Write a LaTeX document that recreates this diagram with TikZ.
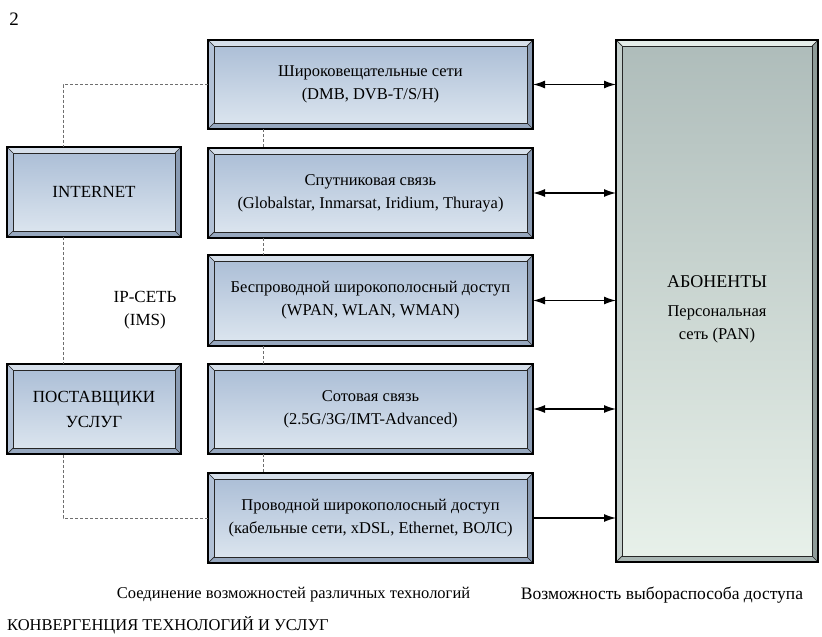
\documentclass[tikz,border=0pt]{standalone}
\usepackage{fontspec}
\setmainfont{Liberation Serif}
\usetikzlibrary{calc,arrows.meta}
\definecolor{btop}{HTML}{A9BCD5}
\definecolor{bbot}{HTML}{DEE7F0}
\definecolor{bvT}{HTML}{D6DFEA}
\definecolor{bvL}{HTML}{B2C1D6}
\definecolor{bvB}{HTML}{97A8BF}
\definecolor{bvR}{HTML}{8A9BB3}
\definecolor{gtop}{HTML}{AEBCBA}
\definecolor{gbot}{HTML}{E8F1EA}
\definecolor{gvT}{HTML}{E6EEEA}
\definecolor{gvL}{HTML}{C5D0CD}
\definecolor{gvB}{HTML}{A9B6B3}
\definecolor{gvR}{HTML}{8E9B98}
\definecolor{dashc}{HTML}{6E6E6E}
\tikzset{
  bluebox/.style={shape=rectangle, top color=btop, bottom color=bbot, inner sep=0pt, outer sep=0pt},
  greenbox/.style={shape=rectangle, top color=gtop, bottom color=gbot, inner sep=0pt, outer sep=0pt},
  conn/.style={line width=1.3pt, black, >={Latex[length=12pt,width=8pt]}},
  dashl/.style={dashc, line width=1pt, dash pattern=on 3pt off 2pt},
  plain/.style={font=\fontsize{16}{23}\selectfont, inner sep=0pt, align=center},
  boxtext/.style={plain, font=\fontsize{16.5}{23}\selectfont}
}
\newcommand\bevelbox[5]{%
  \coordinate (o1) at (#1.north west);
  \coordinate (o2) at (#1.north east);
  \coordinate (o3) at (#1.south east);
  \coordinate (o4) at (#1.south west);
  \coordinate (i1) at ($(o1)+(6,6)$);
  \coordinate (i2) at ($(o2)+(-6,6)$);
  \coordinate (i3) at ($(o3)+(-6,-6)$);
  \coordinate (i4) at ($(o4)+(6,-6)$);
  \fill[#2] (o1)--(o2)--(i2)--(i1)--cycle;
  \fill[#3] (o1)--(i1)--(i4)--(o4)--cycle;
  \fill[#4] (o4)--(i4)--(i3)--(o3)--cycle;
  \fill[#5] (o2)--(o3)--(i3)--(i2)--cycle;
  \draw[line width=0.7pt, black!85] (o1)--(i1) (o2)--(i2) (o3)--(i3) (o4)--(i4);
  \draw[line width=1pt, black!85] (i1)--(i2)--(i3)--(i4)--cycle;
  \draw[line width=1.2pt, black] (o1)--(o2)--(o3)--(o4)--cycle;
}
\begin{document}
\begin{tikzpicture}[x=1pt,y=-1pt]
\useasboundingbox (0,0) rectangle (822,637);
% centre boxes
\node[bluebox, minimum width=325pt, minimum height=89pt] (b1) at (370.5,84.5) {};
\node[bluebox, minimum width=325pt, minimum height=90pt] (b2) at (370.5,193) {};
\node[bluebox, minimum width=325pt, minimum height=91pt] (b3) at (370.5,300.5) {};
\node[bluebox, minimum width=325pt, minimum height=90pt] (b4) at (370.5,409) {};
\node[bluebox, minimum width=325pt, minimum height=90pt] (b5) at (370.5,518) {};
% left boxes
\node[bluebox, minimum width=174pt, minimum height=90pt] (int) at (94,192) {};
\node[bluebox, minimum width=174pt, minimum height=90pt] (pos) at (94,409) {};
% right box
\node[greenbox, minimum width=202pt, minimum height=522pt] (ab) at (717,301) {};
\bevelbox{b1}{bvT}{bvL}{bvB}{bvR}
\bevelbox{b2}{bvT}{bvL}{bvB}{bvR}
\bevelbox{b3}{bvT}{bvL}{bvB}{bvR}
\bevelbox{b4}{bvT}{bvL}{bvB}{bvR}
\bevelbox{b5}{bvT}{bvL}{bvB}{bvR}
\bevelbox{int}{bvT}{bvL}{bvB}{bvR}
\bevelbox{pos}{bvT}{bvL}{bvB}{bvR}
\bevelbox{ab}{gvT}{gvL}{gvB}{gvR}
% texts in boxes
\node[boxtext] (t1) at (b1) {Широковещательные сети\\(DMB, DVB-T/S/H)};
\node[boxtext] (t2) at (b2) {Спутниковая связь\\(Globalstar, Inmarsat, Iridium, Thuraya)};
\node[boxtext] (t3) at (b3) {Беспроводной широкополосный доступ\\(WPAN, WLAN, WMAN)};
\node[boxtext] (t4) at (b4) {Сотовая связь\\(2.5G/3G/IMT-Advanced)};
\node[boxtext] (t5) at (b5) {Проводной широкополосный доступ\\(кабельные сети, xDSL, Ethernet, ВОЛС)};
\node[plain, font=\fontsize{17}{25}\selectfont] (ti) at (int) {INTERNET};
\node[plain, font=\fontsize{17}{25}\selectfont] (tp) at (pos) {ПОСТАВЩИКИ\\УСЛУГ};
\node[boxtext] (ta) at (717,309) {{\fontsize{18}{23}\selectfont АБОНЕНТЫ}\\[6pt]Персональная\\сеть (PAN)};
% arrows
\draw[conn, <->] (b1.east) -- (b1.east -| ab.west);
\draw[conn, <->] (b2.east) -- (b2.east -| ab.west);
\draw[conn, <->] (b3.east) -- (b3.east -| ab.west);
\draw[conn, <->] (b4.east) -- (b4.east -| ab.west);
\draw[conn, ->] (b5.east) -- (b5.east -| ab.west);
% dashed connectors
\coordinate (dl) at (63,0);
\coordinate (dc) at (263,0);
\draw[dashl] (b1.west) -| (dl |- int.north);
\draw[dashl] (dl |- int.south) -- (dl |- pos.north);
\draw[dashl] (b5.west) -| (dl |- pos.south);
\draw[dashl] (dc |- b1.south) -- (dc |- b2.north);
\draw[dashl] (dc |- b2.south) -- (dc |- b3.north);
\draw[dashl] (dc |- b3.south) -- (dc |- b4.north);
\draw[dashl] (dc |- b4.south) -- (dc |- b5.north);
% free texts
\node[plain, font=\fontsize{17}{23}\selectfont] (ip) at (145,310) {IP-СЕТЬ\\(IMS)};
\node[plain, font=\fontsize{19}{23}\selectfont] (num) at (14,19) {2};
\node[plain, font=\fontsize{16.5}{23}\selectfont] (s1) at (293.5,595) {Соединение возможностей различных технологий};
\node[plain, font=\fontsize{17.5}{23}\selectfont] (s2) at (662,595) {Возможность выбораспособа доступа};
\node[plain, font=\fontsize{16.5}{23}\selectfont, anchor=west] (s3) at (7,625) {КОНВЕРГЕНЦИЯ ТЕХНОЛОГИЙ И УСЛУГ};
\end{tikzpicture}
\end{document}
